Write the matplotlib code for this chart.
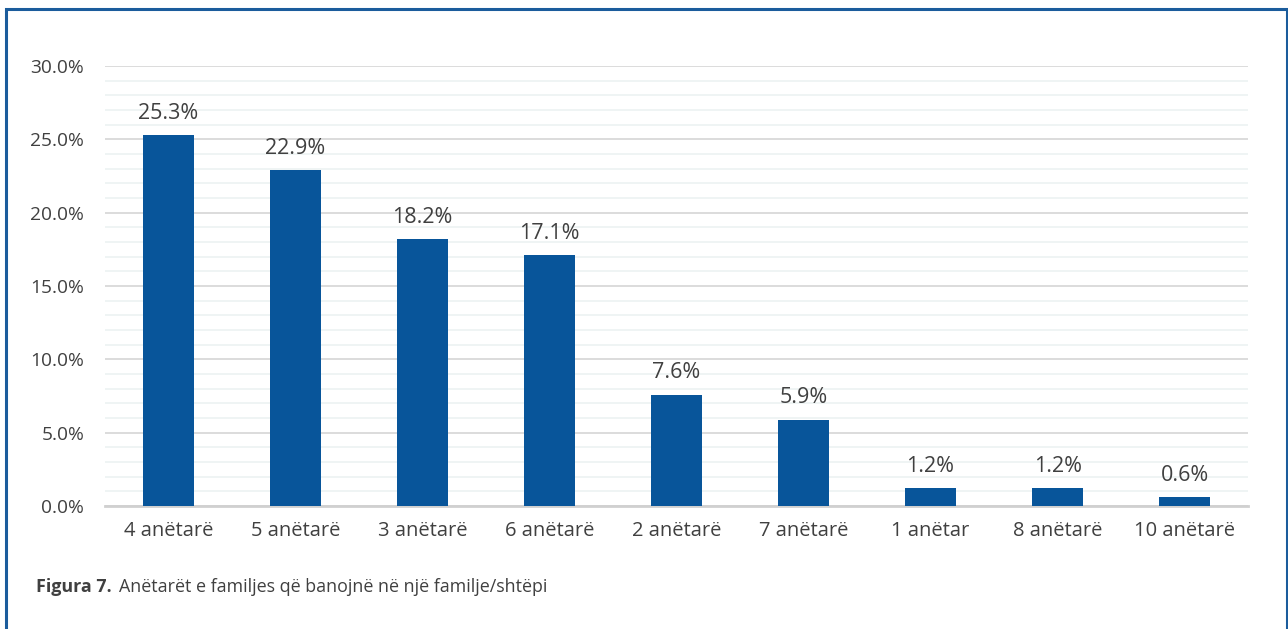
import matplotlib.pyplot as plt
from matplotlib.patches import Rectangle
from matplotlib.ticker import MultipleLocator, FuncFormatter

# Household size distribution (share of respondents, %)
categories = ["4 anëtarë", "5 anëtarë", "3 anëtarë", "6 anëtarë", "2 anëtarë",
              "7 anëtarë", "1 anëtar", "8 anëtarë", "10 anëtarë"]
shares = [25.3, 22.9, 18.2, 17.1, 7.6, 5.9, 1.2, 1.2, 0.6]
y_ticks = [0, 5, 10, 15, 20, 25, 30]

bar_color = "#08559a"
text_color = "#404040"
frame_color = "#1b5c9c"

plt.rcParams["font.family"] = ["Open Sans", "DejaVu Sans"]

fig = plt.figure(figsize=(12.88, 6.29), dpi=100)
ax = fig.add_axes([0.0815, 0.1955, 0.8875, 0.6995])

x = list(range(len(categories)))
ax.bar(x, shares, width=0.4, color=bar_color, zorder=3)
for xi, v in zip(x, shares):
    ax.annotate(f"{v:.1f}%", (xi, v), xytext=(0, 8), textcoords="offset points",
                ha="center", va="bottom", fontsize=15.5, color=text_color)

ax.set_xlim(-0.5, len(categories) - 0.5)
ax.set_ylim(0, 30)
ax.set_yticks(y_ticks)
ax.yaxis.set_minor_locator(MultipleLocator(1))
ax.yaxis.set_major_formatter(FuncFormatter(lambda v, _: f"{v:.1f}%"))
ax.set_xticks(x)
ax.set_xticklabels(categories)

ax.grid(axis="y", which="major", color="#d9d9d9", linewidth=1.3, zorder=0)
ax.grid(axis="y", which="minor", color="#eef3f3", linewidth=1.3, zorder=0)
ax.tick_params(axis="both", which="both", length=0, labelcolor=text_color)
ax.tick_params(axis="y", labelsize=13.8, pad=15)
ax.tick_params(axis="x", labelsize=14.5, pad=11)
for side in ["top", "right", "left"]:
    ax.spines[side].set_visible(False)
ax.spines["bottom"].set_color("#d0d0d0")
ax.spines["bottom"].set_linewidth(2)

# Caption: bold figure number followed by the description
cap = fig.text(36 / 1288, 1 - 587 / 629, "Figura 7.", fontsize=12.9,
               fontweight="bold", color=text_color, va="center", ha="left")
ax.annotate("Anëtarët e familjes që banojnë në një familje/shtëpi",
            xy=(1, 0.5), xycoords=cap, xytext=(5, 0), textcoords="offset points",
            fontsize=12.9, color=text_color, va="center", ha="left",
            annotation_clip=False)

# Frame around the figure (open at the bottom)
fig.add_artist(Rectangle((6 / 1288, -0.05), (1287 - 6) / 1288, 1.05 - 9 / 629,
                         transform=fig.transFigure, fill=False,
                         edgecolor=frame_color, linewidth=2.2))

fig.savefig("out.png", dpi=100)
